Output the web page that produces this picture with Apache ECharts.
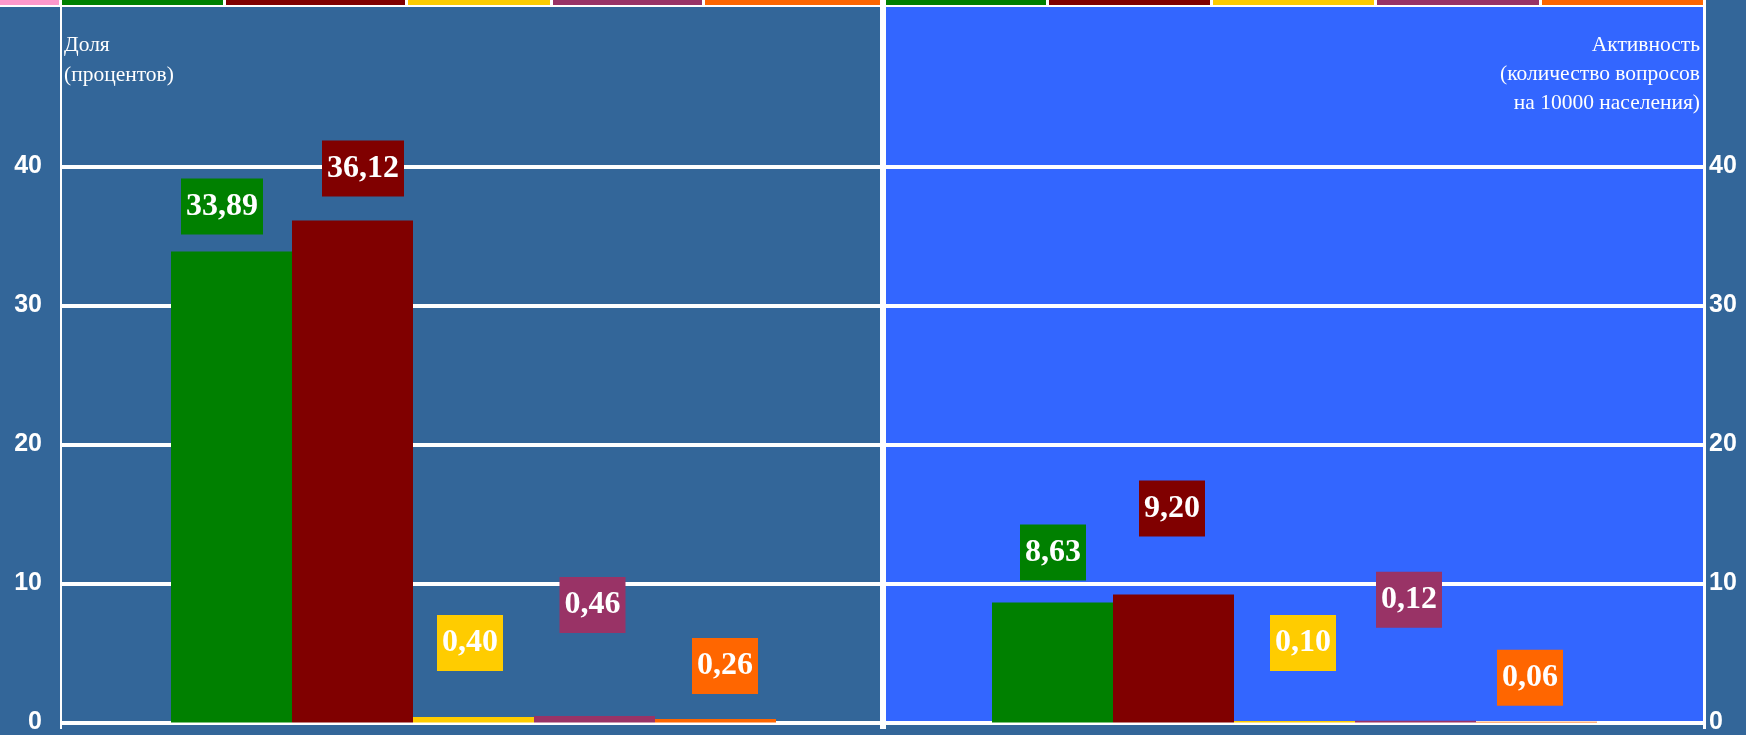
<!DOCTYPE html>
<html>
<head>
<meta charset="utf-8">
<script src="https://cdn.jsdelivr.net/npm/echarts@6/dist/echarts.min.js"></script>
<style>
  html, body { margin: 0; padding: 0; background: #336699; }
  #chart { width: 1746px; height: 735px; }
</style>
</head>
<body>
<div id="chart"></div>
<script>
// Groups and their colours
const groupNames = ['Группа 1', 'Группа 2', 'Группа 3', 'Группа 4', 'Группа 5'];
const groupColors = ['#008000', '#800000', '#FFCC00', '#993366', '#FF6600'];

// Share of questions, percent (left panel)
const shareValues = [33.89, 36.12, 0.40, 0.46, 0.26];
// Questions per 10000 residents (right panel)
const activityValues = [8.63, 9.20, 0.10, 0.12, 0.06];

// Highest tick label shown on the value axes
const lastTickLabel = 40;

// Panel captions
const shareTitle = ['Доля', '(процентов)'];
const activityTitle = ['Активность', '(количество вопросов', 'на 10000 населения)'];

// Label box placement relative to each bar top: [dx, dy] in pixels
const shareLabelShift = [[-9.5, -17], [10.5, -24], [-3.5, -46], [-2, -83], [9.5, -25]];
const activityLabelShift = [[0.5, -22], [-1.5, -58], [8.5, -50], [-6.5, -93], [-6.5, -16]];

const SERIF = '"Liberation Serif", "Times New Roman", serif';
const SANS = '"Liberation Sans", Arial, sans-serif';
const WHITE = '#ffffff';
const NONE = 'rgba(0,0,0,0)';

function fmt(v) { return v.toFixed(2).replace('.', ','); }

function makeSeries(values, idx, shifts) {
  return values.map((v, i) => ({
    type: 'bar',
    name: groupNames[i],
    xAxisIndex: idx,
    yAxisIndex: idx,
    data: [v],
    barWidth: 121,
    barGap: '0%',
    itemStyle: { color: groupColors[i] },
    label: {
      show: true,
      position: 'top',
      distance: 0,
      offset: shifts[i],
      formatter: p => fmt(p.value),
      color: WHITE,
      backgroundColor: groupColors[i],
      padding: [12, 5],
      fontFamily: SERIF,
      fontWeight: 'bold',
      fontSize: 32,
      lineHeight: 32
    }
  }));
}

function valueAxis(idx, pos, margin) {
  return {
    type: 'value',
    gridIndex: idx,
    position: pos,
    min: 0,
    max: 51.47,
    interval: 10,
    axisLine: { show: false },
    axisTick: { show: false },
    axisLabel: {
      color: WHITE,
      fontFamily: SANS,
      fontWeight: 'bold',
      fontSize: 25,
      margin: margin,
      showMaxLabel: false,
      formatter: v => (v <= lastTickLabel ? String(v) : '')
    },
    splitLine: {
      show: true,
      lineStyle: {
        width: 4,
        color: [WHITE, WHITE, WHITE, WHITE, WHITE, NONE, NONE]
      }
    }
  };
}

function categoryAxis(idx) {
  return { type: 'category', gridIndex: idx, data: [''], show: false };
}

// Decorative strip along the top edge
const stripPieces = [
  [0, 59, '#FF99CC'],
  [62, 223, groupColors[0]], [226, 405, groupColors[1]], [408, 550, groupColors[2]],
  [553, 702, groupColors[3]], [705, 880, groupColors[4]],
  [886, 1046, groupColors[0]], [1049, 1210, groupColors[1]], [1213, 1374, groupColors[2]],
  [1377, 1539, groupColors[3]], [1542, 1703, groupColors[4]]
];

const captionFont = '21.5px ' + SERIF;

const graphics = [
  { type: 'rect', z: 3, shape: { x: 0, y: 0, width: 1706, height: 7 }, style: { fill: WHITE } }
].concat(stripPieces.map(s => ({
  type: 'rect', z: 4, shape: { x: s[0], y: 0, width: s[1] - s[0], height: 5 }, style: { fill: s[2] }
}))).concat([
  { type: 'rect', z: 3, shape: { x: 60, y: 5, width: 2, height: 724 }, style: { fill: WHITE } },
  { type: 'rect', z: 3, shape: { x: 880, y: 0, width: 6, height: 729 }, style: { fill: WHITE } },
  { type: 'rect', z: 3, shape: { x: 1703, y: 0, width: 3, height: 729 }, style: { fill: WHITE } }
]).concat(shareTitle.map((line, i) => ({
  type: 'text', z: 5, left: 64, top: 30 + i * 30,
  style: { text: line, fill: WHITE, font: captionFont, lineHeight: 30 }
}))).concat(activityTitle.map((line, i) => ({
  type: 'text', z: 5, right: 46, top: 31 + i * 29,
  style: { text: line, fill: WHITE, font: captionFont, lineHeight: 29 }
})));

const chart = echarts.init(document.getElementById('chart'), null, { renderer: 'canvas' });
chart.setOption({
  backgroundColor: '#336699',
  animation: false,
  grid: [
    { left: 62, top: 7, width: 823, height: 720, show: true, backgroundColor: '#336699', borderWidth: 0 },
    { left: 886, top: 7, width: 817, height: 720, show: true, backgroundColor: '#3366FF', borderWidth: 0 }
  ],
  xAxis: [categoryAxis(0), categoryAxis(1)],
  yAxis: [valueAxis(0, 'left', 20), valueAxis(1, 'right', 6)],
  series: makeSeries(shareValues, 0, shareLabelShift).concat(makeSeries(activityValues, 1, activityLabelShift)),
  graphic: graphics
});
</script>
</body>
</html>
